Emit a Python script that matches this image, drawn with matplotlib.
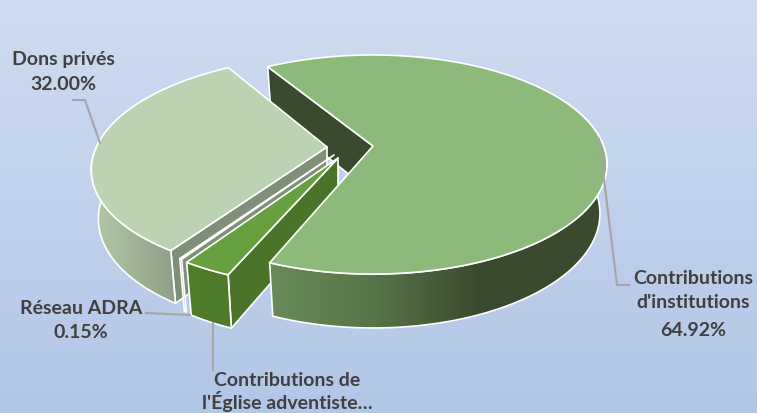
import numpy as np
import matplotlib
matplotlib.use("Agg")
import matplotlib.pyplot as plt
from matplotlib.patches import Polygon
from matplotlib.colors import LinearSegmentedColormap

# Chart data
categories = ["Contributions d'institutions", "Contributions de l'Église adventiste", "Réseau ADRA", "Dons privés"]
values = [64.92, 2.93, 0.15, 32.00]

# Pie geometry, in pixels of the 757x413 picture
START_ANGLE = -31.5
RX, RY = 230.6, 106.4
PERSP = 0.169
DEPTH = 48
BOTTOM_SHRINK = 0.03
WHITE = "#ffffff"
TEXT = "#404040"
LEADER = "#a6a6a6"

plt.rcParams["font.family"] = ["Lato", "DejaVu Sans"]
plt.rcParams["font.weight"] = "bold"

fig = plt.figure(figsize=(7.57, 4.13), dpi=100)
ax = fig.add_axes([0, 0, 1, 1])


def project(apex, theta, r=1.0, z=0.0):
    # theta goes clockwise from the back of the pie, apex = (x, y, skew)
    t = np.radians(theta)
    u, v = r * np.sin(t), -r * np.cos(t)
    w = 1 - PERSP * v
    s = 1 - BOTTOM_SHRINK * z
    return np.column_stack([apex[0] + (RX * u + apex[2] * v) * s / w, apex[1] + (RY * v * s + DEPTH * z) / w])


def arc(apex, a0, a1, z=0.0):
    n = max(int(abs(a1 - a0)), 2)
    return project(apex, np.linspace(a0, a1, n), z=z)


def centre(apex, z=0.0):
    return project(apex, np.array([0.0]), r=0.0, z=z)


def face(pts, color, zorder):
    ax.add_patch(Polygon(pts, closed=True, fc=color, ec=WHITE, lw=1.2, joinstyle="round", zorder=zorder))


def gradient_face(pts, stops, zorder):
    # horizontal gradient clipped to the polygon, white border on top
    x0, x1 = pts[:, 0].min(), pts[:, 0].max()
    y0, y1 = pts[:, 1].min(), pts[:, 1].max()
    cmap = LinearSegmentedColormap.from_list("g", stops)
    im = ax.imshow(np.linspace(0, 1, 256)[None, :], cmap=cmap, extent=(x0, x1, y1, y0),
                   aspect="auto", interpolation="bilinear", zorder=zorder)
    outline = Polygon(pts, closed=True, fc="none", ec=WHITE, lw=1.2, zorder=zorder + 0.1)
    ax.add_patch(outline)
    im.set_clip_path(outline)


def side_wall(apex, theta, color, zorder):
    rim_t = project(apex, np.array([theta]))
    rim_b = project(apex, np.array([theta]), z=1.0)
    face(np.vstack([centre(apex), rim_t, rim_b, centre(apex, 1.0)]), color, zorder)


def outer_wall(apex, a0, a1):
    return np.vstack([arc(apex, a0, a1), arc(apex, a1, a0, z=1.0)])


# Background
bg = LinearSegmentedColormap.from_list("bg", ["#cfdcf1", "#b2c6e6"])
ax.imshow(np.linspace(0, 1, 256)[:, None], cmap=bg, extent=(0, 757, 413, 0), aspect="auto", zorder=0)

# Slice angles from the values
angles = START_ANGLE + np.concatenate([[0], np.cumsum(values)]) * 3.6
inst0, inst1 = angles[0], angles[1]
egl0, egl1 = angles[1], angles[2]
adra0, adra1 = angles[2], angles[3]
dons0, dons1 = angles[3], angles[4]

apex_inst = (373, 146, 0)
apex_egl = (338, 158, -6)
apex_adra = (334, 155, -7)
apex_dons = (327, 147, -9)

# Dark wall behind the big slice
side_wall(apex_inst, inst0, "#3a4a2e", 1)

# Dons privés
side_wall(apex_dons, dons0, "#7f8f78", 2)
gradient_face(outer_wall(apex_dons, dons0, 300), ["#b4c9aa", "#8d9f85"], 2.2)
face(np.vstack([centre(apex_dons), arc(apex_dons, dons0, dons1)]), "#bbd3b2", 3)

# Réseau ADRA, only a sliver
face(outer_wall(apex_adra, adra0, adra1), "#4a742a", 4)
face(np.vstack([centre(apex_adra), arc(apex_adra, adra0, adra1)]), "#66a03f", 4.1)

# Église
side_wall(apex_egl, egl0, "#4a742a", 5)
gradient_face(outer_wall(apex_egl, egl0, egl1), ["#4f7e2b", "#4d7a2b"], 5.2)
face(np.vstack([centre(apex_egl), arc(apex_egl, egl0, egl1)]), "#66a03f", 5.4)

# Contributions d'institutions
gradient_face(outer_wall(apex_inst, 60, inst1),
              [(0, "#6a8a58"), (0.3, "#587549"), (0.62, "#3a4a2e"), (1, "#3a4a2e")], 6)
face(np.vstack([centre(apex_inst), arc(apex_inst, inst0, inst1)]), "#8cba7a", 7)

# Leader lines
leaders = [
    ([73, 85, 100], [100, 100, 143]),
    ([146, 190], [313, 315]),
    ([213, 213], [323, 370]),
    ([599, 617, 629], [139, 285, 285]),
]
for lx, ly in leaders:
    ax.plot(lx, ly, color=LEADER, lw=1.5, zorder=8, solid_joinstyle="miter")

# Labels
label_size = 14
labels = [
    (63, 60, "Dons privés"),
    (63, 85, "%.2f%%" % values[3]),
    (81, 308, "Réseau ADRA"),
    (81, 332, "%.2f%%" % values[2]),
    (287, 381, "Contributions de"),
    (287, 401, "l'Église adventiste…"),
    (693, 279, "Contributions"),
    (693, 303, "d'institutions"),
    (693, 331, "%.2f%%" % values[0]),
]
for x, y, s in labels:
    ax.text(x, y, s, ha="center", va="center", color=TEXT, fontsize=label_size, fontweight="bold", zorder=9)

ax.set_xlim(0, 757)
ax.set_ylim(413, 0)
ax.axis("off")
fig.savefig("out.png", dpi=100)
